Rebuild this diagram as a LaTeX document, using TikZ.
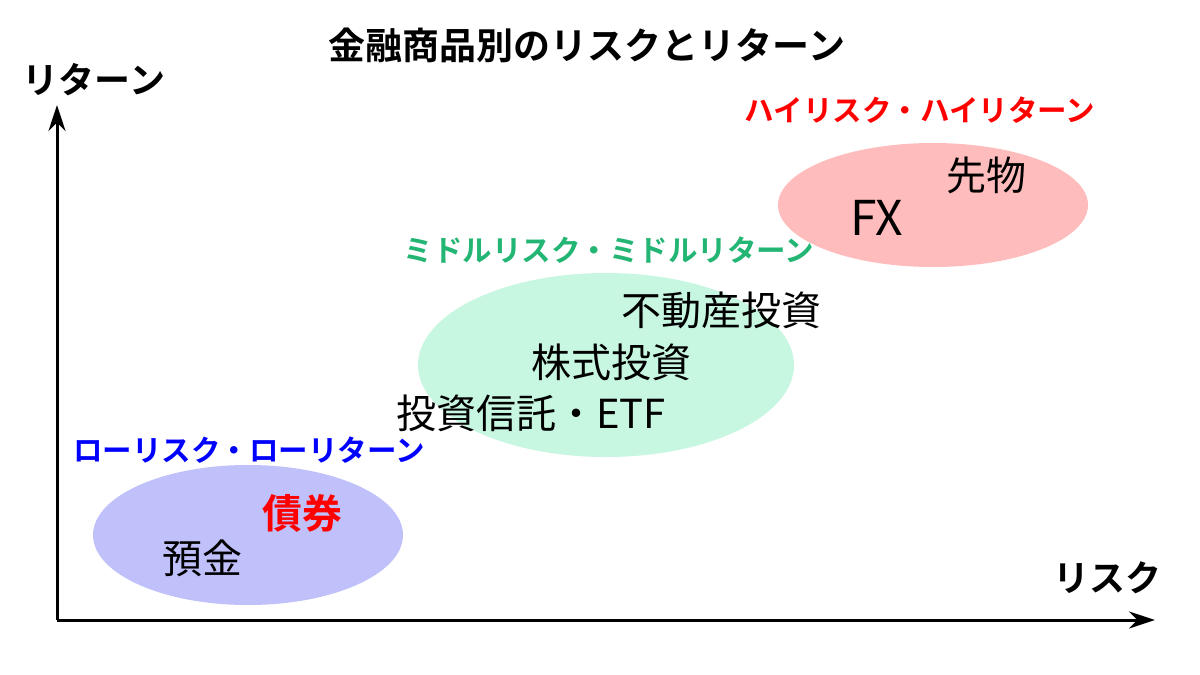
\documentclass[tikz,border=0pt]{standalone}
\usepackage{fontspec}
\setmainfont{Noto Sans CJK JP}
\newfontfamily\jpb{Noto Sans CJK JP Bold}
\usetikzlibrary{arrows.meta}
\definecolor{lowc}{HTML}{C0C0FA}
\definecolor{midc}{HTML}{C8F7E1}
\definecolor{highc}{HTML}{FFBCBC}
\definecolor{midt}{HTML}{22B573}
\tikzset{x=1pt,y=-1pt,
 lab/.style={font=\jpb\fontsize{29.5}{30}\selectfont},
 item/.style={font=\fontsize{40}{40}\selectfont},
 ax/.style={line width=3pt,-{Stealth[length=26pt,width=17pt]}}}
\begin{document}
\begin{tikzpicture}
\useasboundingbox[fill=white] (0,0) rectangle (1200,675);
\node[font=\jpb\fontsize{37}{37}\selectfont] (title) at (587,45) {金融商品別のリスクとリターン};
\coordinate (o) at (57,620);
\coordinate (ytop) at (57,105);
\coordinate (xend) at (1155,620);
\draw[ax] (o) -- (ytop);
\draw[ax] (o) -- (xend);
\node[font=\jpb\fontsize{36}{36}\selectfont] (yl) at (94,80) {リターン};
\node[font=\jpb\fontsize{36}{36}\selectfont] (xl) at (1107,578) {リスク};
\fill[lowc] (248,535) ellipse [x radius=155, y radius=70];
\fill[midc] (606,365) ellipse [x radius=188, y radius=92];
\fill[highc] (933,205) ellipse [x radius=155, y radius=62];
\node[lab,text=red] (hl) at (920,110) {ハイリスク・ハイリターン};
\node[lab,text=midt] (ml) at (609,250) {ミドルリスク・ミドルリターン};
\node[lab,text=blue] (ll) at (249,450) {ローリスク・ローリターン};
\node[item] (sak) at (986,175) {先物};
\node[item,font=\fontsize{48}{48}\selectfont] (fx) at (877,218) {FX};
\node[item] (fud) at (721,310) {不動産投資};
\node[item] (kab) at (611,362) {株式投資};
\node[item] (tou) at (531,413) {投資信託・ETF};
\node[item,font=\jpb\fontsize{40}{40}\selectfont,text=red] (sai) at (302,513) {債券};
\node[item] (yok) at (202,558) {預金};
\end{tikzpicture}
\end{document}
